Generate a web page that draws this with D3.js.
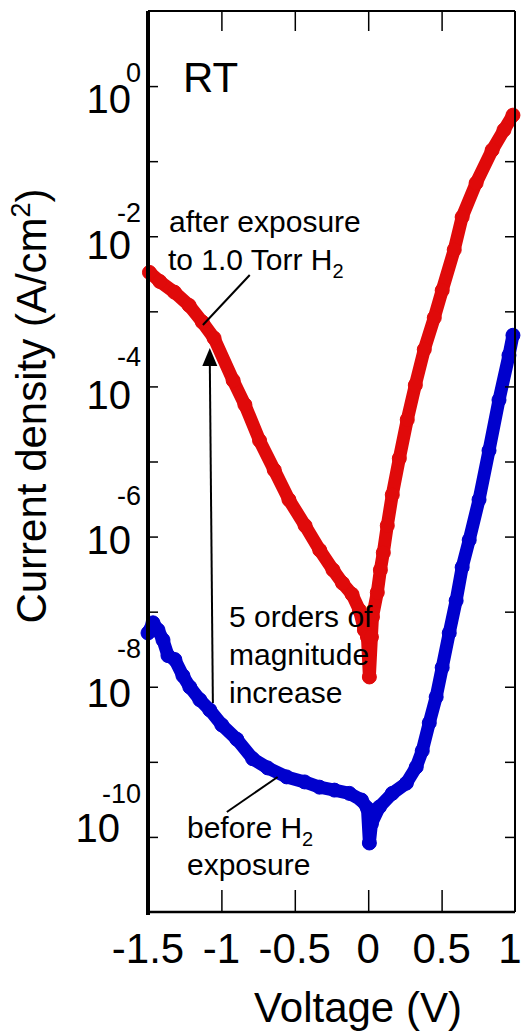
<!DOCTYPE html>
<html>
<head>
<meta charset="utf-8">
<script src="https://cdn.jsdelivr.net/npm/d3@7/dist/d3.min.js"></script>
<style>
  body { margin: 0; background: #fff; }
  svg { display: block; font-family: Arial, "Liberation Sans", sans-serif; }
</style>
</head>
<body>
<svg id="chart" width="522" height="1033"></svg>
<script>
"use strict";

// after exposure to 1.0 Torr H2 (red)
const afterV = [-1.49, -1.42, -1.32, -1.22, -1.13, -1.05, -0.92, -0.84, -0.74, -0.64,
  -0.54, -0.43, -0.33, -0.24, -0.175, -0.11, -0.06, -0.026, -0.005, 0.008,
  0.022, 0.029, 0.062, 0.083, 0.103, 0.13, 0.164, 0.212, 0.266, 0.321,
  0.382, 0.45, 0.504, 0.586, 0.64, 0.735, 0.844, 0.925, 0.986];
const afterJ = [3.3e-3, 2.5e-3, 1.8e-3, 1.2e-3, 7.2e-4, 4.4e-4, 1.2e-4, 5.7e-5, 1.9e-5, 7.7e-6,
  3.1e-6, 1.4e-6, 6.6e-7, 3.6e-7, 2.4e-7, 1.7e-7, 1.05e-7, 5.7e-8, 4.6e-8, 1.35e-8,
  4.6e-8, 8.5e-8, 1.8e-7, 3.6e-7, 6.1e-7, 1.4e-6, 3.6e-6, 1.1e-5, 3.6e-5, 1.04e-4,
  3.1e-4, 8.2e-4, 1.9e-3, 6.6e-3, 1.8e-2, 5.1e-2, 0.14, 0.26, 0.41];

// before H2 exposure (blue)
const beforeV = [-1.5, -1.466, -1.432, -1.398, -1.364, -1.317, -1.262, -1.215, -1.147, -1.079,
  -0.997, -0.895, -0.787, -0.685, -0.556, -0.433, -0.332, -0.23, -0.128, -0.046,
  -0.005, 0.008, 0.022, 0.076, 0.164, 0.26, 0.327, 0.368, 0.416, 0.463,
  0.504, 0.552, 0.599, 0.64, 0.688, 0.755, 0.823, 0.891, 0.959, 0.986];
const beforeJ = [5.2e-8, 7.1e-8, 5.7e-8, 4.2e-8, 2.6e-8, 2.3e-8, 1.4e-8, 9.9e-9, 6.7e-9, 4.9e-9,
  3.1e-9, 2.0e-9, 1.1e-9, 8.3e-10, 6.3e-10, 5.4e-10, 4.6e-10, 4.2e-10, 3.8e-10, 3.1e-10,
  2.4e-10, 8.3e-11, 1.5e-10, 2.5e-10, 3.8e-10, 5.2e-10, 8.5e-10, 1.4e-9, 3.3e-9, 7.3e-9,
  1.8e-8, 5.2e-8, 1.4e-7, 3.9e-7, 9.0e-7, 3.1e-6, 1.4e-5, 6.6e-5, 2.6e-4, 4.8e-4];

const xTicks = [-1, -0.5, 0, 0.5];
const xTickLabels = ["-1.5", "-1", "-0.5", "0", "0.5", "1"];
const xLabelValues = [-1.5, -1, -0.5, 0, 0.5, 1];
const yLabelExp = [0, -2, -4, -6, -8, -10];

// label nudges (the original labels are hand placed): [base dy, sup dy, base right x]
const yLabelNudge = {
  "0": [27, -4, 131], "-2": [23, -14, 131], "-4": [23, -20, 131],
  "-6": [17, -32, 131], "-8": [20, -29, 131], "-10": [5, -34, 120]
};

const svg = d3.select("#chart");
const plotLeft = 148, plotRight = 515, plotTop = 11, plotBottom = 912;

const x = d3.scaleLinear().domain([-1.5, 1]).range([plotLeft, plotRight]);
const y = d3.scaleLog().domain([1e-11, 10]).range([plotBottom, plotTop]);

const red = "#e00a0a", blue = "#0000cd";

// series: dense measured points drawn as a thick trace with round markers
function drawSeries(vs, js, color) {
  const pts = vs.map((v, i) => [v, js[i]]);
  const line = d3.line().x(d => x(d[0])).y(d => y(d[1]));
  svg.append("path")
    .attr("d", line(pts))
    .attr("fill", "none")
    .attr("stroke", color)
    .attr("stroke-width", 13)
    .attr("stroke-linejoin", "round")
    .attr("stroke-linecap", "round");
  svg.append("g").selectAll("circle")
    .data(pts)
    .enter().append("circle")
      .attr("cx", d => x(d[0]))
      .attr("cy", d => y(d[1]))
      .attr("r", 7)
      .attr("fill", color)
      .attr("stroke", color)
      .attr("stroke-width", 1);
}
drawSeries(afterV, afterJ, red);
drawSeries(beforeV, beforeJ, blue);

// frame
svg.append("line").attr("x1", plotLeft).attr("x2", plotLeft).attr("y1", plotTop).attr("y2", plotBottom + 3)
  .attr("stroke", "#000").attr("stroke-width", 4);
svg.append("line").attr("x1", plotLeft).attr("x2", plotRight).attr("y1", plotBottom).attr("y2", plotBottom)
  .attr("stroke", "#000").attr("stroke-width", 2.5);
svg.append("line").attr("x1", plotLeft).attr("x2", plotRight).attr("y1", plotTop).attr("y2", plotTop)
  .attr("stroke", "#000").attr("stroke-width", 2);
svg.append("line").attr("x1", plotRight).attr("x2", plotRight).attr("y1", plotTop).attr("y2", plotBottom)
  .attr("stroke", "#000").attr("stroke-width", 2);

// x ticks, bottom and top, pointing in
const xAxisB = d3.axisTop(x).tickValues(xTicks).tickSize(22).tickFormat("");
svg.append("g").attr("transform", `translate(0,${plotBottom})`).call(xAxisB)
  .call(g => g.select(".domain").remove())
  .selectAll("line").attr("stroke-width", 1.5);
const xAxisT = d3.axisBottom(x).tickValues(xTicks).tickSize(20).tickFormat("");
svg.append("g").attr("transform", `translate(0,${plotTop})`).call(xAxisT)
  .call(g => g.select(".domain").remove())
  .selectAll("line").attr("stroke-width", 1.5);

// y ticks every decade, left and right, pointing in
const yTickVals = d3.range(-10, 1).map(e => Math.pow(10, e));
const yAxisL = d3.axisRight(y).tickValues(yTickVals).tickSize(10).tickFormat("");
svg.append("g").attr("transform", `translate(${plotLeft},0)`).call(yAxisL)
  .call(g => g.select(".domain").remove())
  .selectAll("line").attr("stroke-width", 1.5);
const yAxisR = d3.axisLeft(y).tickValues(yTickVals).tickSize(10).tickFormat("");
svg.append("g").attr("transform", `translate(${plotRight},0)`).call(yAxisR)
  .call(g => g.select(".domain").remove())
  .selectAll("line").attr("stroke-width", 1.5);

// x tick labels (last one pulled in a little so it stays on the page)
svg.append("g").selectAll("text")
  .data(xLabelValues)
  .enter().append("text")
    .attr("x", d => x(d) - (d === 1 ? 5 : 0))
    .attr("y", 963)
    .attr("text-anchor", "middle")
    .attr("font-size", 42)
    .text((d, i) => xTickLabels[i]);

// y tick labels 10^n
yLabelExp.forEach(e => {
  const ty = y(Math.pow(10, e));
  const n = yLabelNudge[String(e)];
  svg.append("text").attr("x", n[2]).attr("y", ty + n[0])
    .attr("text-anchor", "end").attr("font-size", 40).text("10");
  svg.append("text").attr("x", 141).attr("y", ty + n[1])
    .attr("text-anchor", "end").attr("font-size", 27).text(String(e));
});

// axis titles
svg.append("text")
  .attr("transform", `translate(46,406) rotate(-90)`)
  .attr("text-anchor", "middle")
  .attr("font-size", 42)
  .html('Current density (A/cm<tspan dy="-16" font-size="27">2</tspan><tspan dy="16">)</tspan>');

svg.append("text")
  .attr("x", 358).attr("y", 1022)
  .attr("text-anchor", "middle")
  .attr("font-size", 42)
  .text("Voltage (V)");

// annotations
svg.append("text").attr("x", 183).attr("y", 92).attr("font-size", 42).text("RT");

const ann = svg.append("g").attr("font-size", 30);
ann.append("text").attr("x", 169).attr("y", 232).text("after exposure");
ann.append("text").attr("x", 168).attr("y", 270)
  .html('to 1.0 Torr H<tspan dy="8" font-size="20">2</tspan>');
ann.append("text").attr("x", 229).attr("y", 627).text("5 orders of");
ann.append("text").attr("x", 229).attr("y", 665).text("magnitude");
ann.append("text").attr("x", 229).attr("y", 703).text("increase");
ann.append("text").attr("x", 187).attr("y", 838)
  .html('before H<tspan dy="8" font-size="20">2</tspan>');
ann.append("text").attr("x", 187).attr("y", 875).text("exposure");

// leader lines
svg.append("line")
  .attr("x1", x(-0.807)).attr("y1", y(Math.pow(10, -2.516)))
  .attr("x2", x(-1.126)).attr("y2", y(Math.pow(10, -3.182)))
  .attr("stroke", "#000").attr("stroke-width", 2);
svg.append("line")
  .attr("x1", x(-0.963)).attr("y1", y(Math.pow(10, -9.668)))
  .attr("x2", x(-0.617)).attr("y2", y(Math.pow(10, -9.202)))
  .attr("stroke", "#000").attr("stroke-width", 2);

// 5 orders arrow
const ax0 = x(-1.058), ay0 = y(Math.pow(10, -8.216));
const ax1 = x(-1.079), ay1 = y(Math.pow(10, -3.488));
svg.append("line")
  .attr("x1", ax0).attr("y1", ay0).attr("x2", ax1).attr("y2", ay1 + 14)
  .attr("stroke", "#000").attr("stroke-width", 2);
svg.append("path")
  .attr("d", `M${ax1},${ay1} L${ax1 - 7.5},${ay1 + 18} L${ax1 + 7.5},${ay1 + 18} Z`)
  .attr("fill", "#000");
</script>
</body>
</html>
